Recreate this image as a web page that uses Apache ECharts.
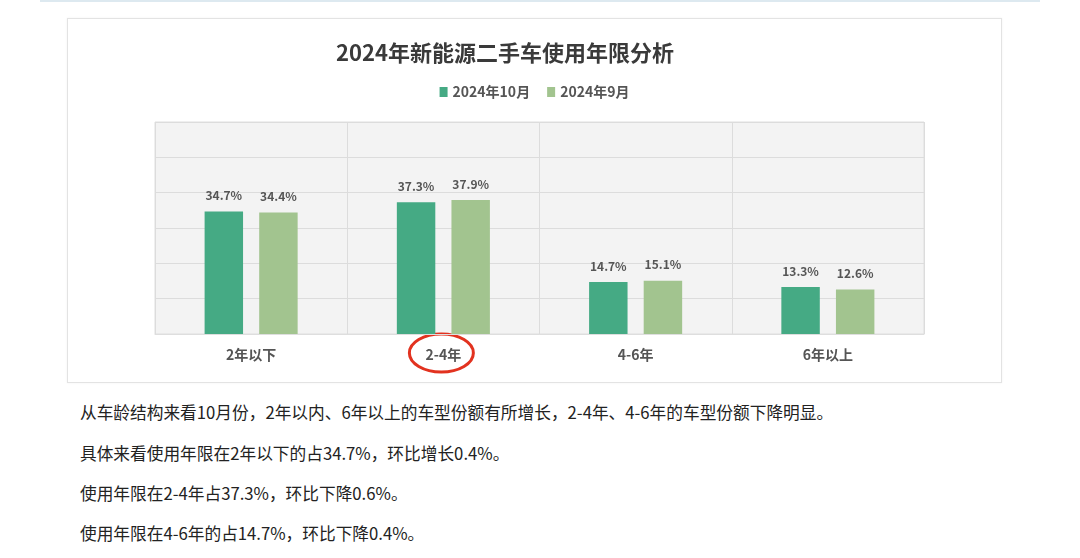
<!DOCTYPE html>
<html>
<head>
<meta charset="utf-8">
<script src="https://cdn.jsdelivr.net/npm/echarts@6/dist/echarts.min.js"></script>
<style>
  html, body { margin: 0; padding: 0; background: #fff; width: 1080px; height: 558px; overflow: hidden; font-family: 'Noto Sans CJK SC', 'Noto Sans', sans-serif; }
  #topline { position: absolute; left: 40px; top: 0; width: 1000px; height: 2px; background: #dde9f0; }
  #box { position: absolute; left: 67px; top: 18px; width: 933px; height: 363px; border: 1px solid #e3e3e3; box-shadow: 0 0 2px rgba(0,0,0,0.06); background: #fff; }
  #chart { position: absolute; left: 0; top: 0; width: 933px; height: 363px; }
  .p { position: absolute; left: 80px; font-size: 16.7px; color: #222; white-space: nowrap; line-height: 20px; }
</style>
</head>
<body>
<div id="topline"></div>
<div id="box"><div id="chart"></div></div>
<div class="p" style="top:402px">从车龄结构来看10月份，2年以内、6年以上的车型份额有所增长，2-4年、4-6年的车型份额下降明显。</div>
<div class="p" style="top:443px">具体来看使用年限在2年以下的占34.7%，环比增长0.4%。</div>
<div class="p" style="top:483px">使用年限在2-4年占37.3%，环比下降0.6%。</div>
<div class="p" style="top:523px">使用年限在4-6年的占14.7%，环比下降0.4%。</div>
<script>
const categories = ['2年以下', '2-4年', '4-6年', '6年以上'];
const seriesNames = ['2024年10月', '2024年9月'];
const octValues = [34.7, 37.3, 14.7, 13.3];
const sepValues = [34.4, 37.9, 15.1, 12.6];
const highlighted = '2-4年';

const chart = echarts.init(document.getElementById('chart'));
const font = "'Noto Sans CJK SC', 'Noto Sans', sans-serif";
const labelStyle = {
  show: true, position: 'top', distance: 10,
  formatter: p => p.value.toFixed(1) + '%',
  fontSize: 12, fontWeight: 'bold', color: '#555', fontFamily: font
};
chart.setOption({
  animation: false,
  textStyle: { fontFamily: font },
  title: {
    text: '2024年新能源二手车使用年限分析',
    left: 263, top: 18,
    textStyle: { fontSize: 22, fontWeight: 'bold', color: '#3a3a3a', fontFamily: font }
  },
  legend: {
    data: seriesNames,
    top: 61, left: 'center',
    icon: 'rect', itemWidth: 8, itemHeight: 10, itemGap: 17,
    textStyle: { fontSize: 14, fontWeight: 'bold', color: '#555', fontFamily: font }
  },
  grid: {
    left: 87, right: 77, top: 103, bottom: 48,
    show: true, backgroundColor: '#f3f3f3', borderColor: '#dedede', borderWidth: 1
  },
  xAxis: {
    type: 'category', data: categories,
    axisLine: { lineStyle: { color: '#dedede' } },
    axisTick: { show: false },
    splitLine: { show: true, lineStyle: { color: '#dcdcdc' } },
    axisLabel: { fontSize: 14, fontWeight: 'bold', color: '#555', margin: 14, fontFamily: font }
  },
  yAxis: {
    type: 'value', min: 0, max: 60, interval: 10,
    axisLabel: { show: false }, axisLine: { show: false }, axisTick: { show: false },
    splitLine: { lineStyle: { color: '#dcdcdc' } }
  },
  series: [
    { name: seriesNames[0], type: 'bar', data: octValues, barWidth: '20%', barGap: '42%',
      itemStyle: { color: '#45aa84' }, label: labelStyle },
    { name: seriesNames[1], type: 'bar', data: sepValues, barWidth: '20%', barGap: '42%',
      itemStyle: { color: '#a2c48f' }, label: labelStyle }
  ]
});

const pt = chart.convertToPixel({ xAxisIndex: 0, yAxisIndex: 0 }, [highlighted, 0]);
chart.setOption({
  graphic: [{
    type: 'ellipse',
    shape: { cx: pt[0] - 2, cy: pt[1] + 19, rx: 32, ry: 19 },
    style: { fill: 'none', stroke: '#e2321f', lineWidth: 3 },
    silent: true
  }]
});
</script>
</body>
</html>
